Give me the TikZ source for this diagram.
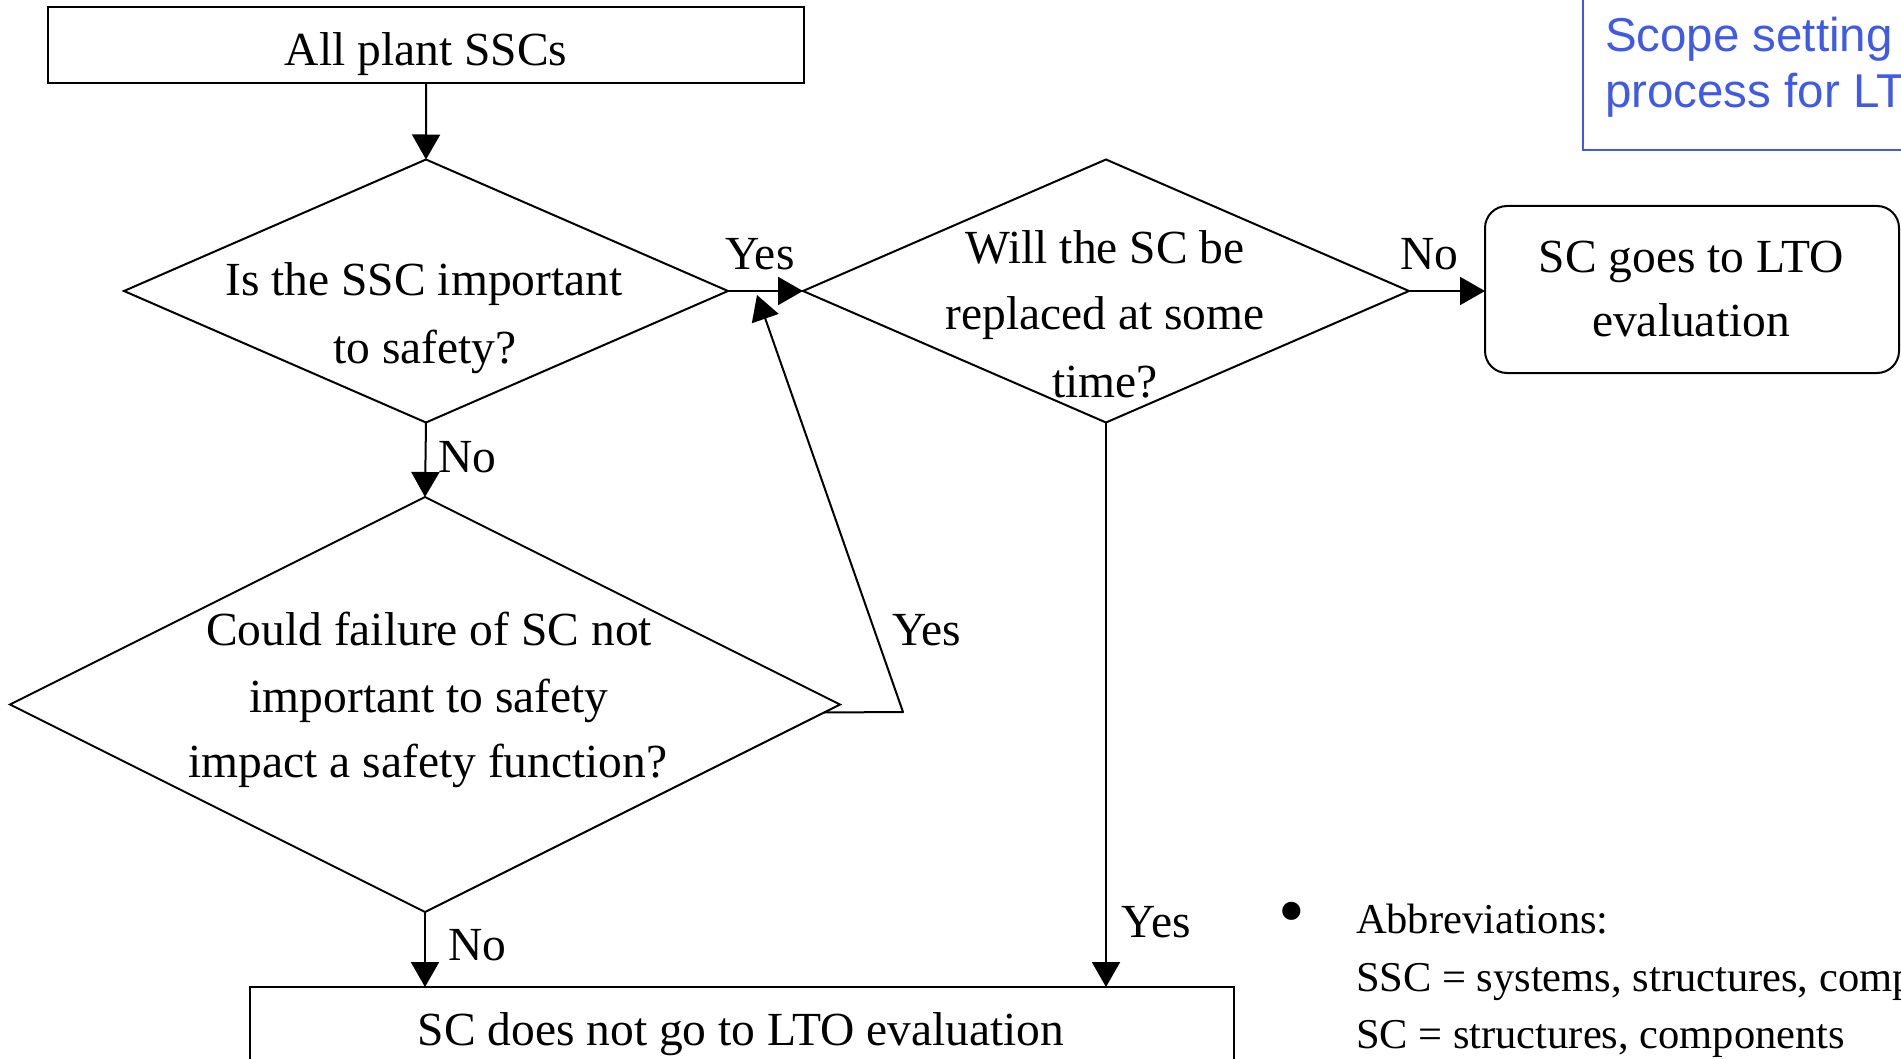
\documentclass[tikz,border=0pt]{standalone}
\usepackage{fontspec}
\setmainfont{Liberation Serif}
\newfontfamily\bluesans{Liberation Sans}
\usetikzlibrary{shapes.geometric,arrows.meta,calc}
\definecolor{scopeblue}{RGB}{65,90,230}
\begin{document}
\begin{tikzpicture}[x=1pt,y=-1pt,
  every node/.style={inner sep=0pt, outer sep=0pt},
  ln/.style={line width=2pt, line join=round},
  arr/.style={ln, -{Triangle[length=25pt,width=28pt]}},
  box/.style={draw, line width=2pt, rectangle},
  dia/.style={draw, line width=2pt, diamond, inner sep=0pt},
  txt/.style={anchor=base, font=\fontsize{47.5}{57}\selectfont},
  lbl/.style={anchor=base west, font=\fontsize{47.5}{57}\selectfont},
  lblc/.style={anchor=base, font=\fontsize{47.5}{57}\selectfont},
  abbr/.style={anchor=base west, font=\fontsize{42.5}{51}\selectfont},
  bluetxt/.style={anchor=base west, text=scopeblue, font=\bluesans\fontsize{47.5}{56}\selectfont}]
\useasboundingbox (0,0) rectangle (1901,1059);
\clip (0,0) rectangle (1901,1059);

% boxes and decisions
\node[box, minimum width=755.5pt, minimum height=75.4pt] (top) at (426.2,45) {};
\node[txt] (toptxt) at (426,66) {All plant SSCs};

\node[dia, minimum width=604pt, minimum height=263pt] (d1) at (426,291) {};
\node[txt] (d1a) at (424,296) {Is the SSC important};
\node[txt] (d1b) at (425,363) {to safety?};

\node[dia, minimum width=606pt, minimum height=263pt] (d2) at (1106,291) {};
\node[txt] (d2a) at (1105,263.5) {Will the SC be};
\node[txt] (d2b) at (1105,330) {replaced at some};
\node[txt] (d2c) at (1105,397) {time?};

\node[box, rounded corners=22pt, minimum width=414pt, minimum height=167pt] (lto) at (1692,289.5) {};
\node[txt] (ltoa) at (1691,273) {SC goes to LTO};
\node[txt] (ltob) at (1691,337) {evaluation};

\node[dia, minimum width=830pt, minimum height=415pt] (d3) at (425,704.5) {};
\node[txt] (d3a) at (429,645.5) {Could failure of SC not};
\node[txt] (d3b) at (429,712) {important to safety};
\node[txt] (d3c) at (428,777) {impact a safety function?};

\node[box, minimum width=984pt, minimum height=200pt, anchor=north] (bot) at (742,987) {};
\node[txt] (bottxt) at (741,1045) {SC does not go to LTO evaluation};

% scope note
\node[draw=scopeblue, line width=2pt, minimum width=400pt, minimum height=220pt, anchor=south west] (scope) at (1583,150) {};
\node[bluetxt] (scopea) at (1605,52) {Scope setting};
\node[bluetxt] (scopeb) at (1605,108) {process for LTO};

% abbreviations
\node[anchor=center, font=\fontsize{76}{80}\selectfont] (bullet) at (1291.5,919.5) {\textbullet};
\node[abbr] (ab1) at (1356,933) {Abbreviations:};
\node[abbr] (ab2) at (1356,991) {SSC = systems, structures, components};
\node[abbr] (ab3) at (1356,1048) {SC = structures, components};

% connectors
\draw[arr] (top.south) -- (d1.north);
\draw[arr] (d1.east) -- (d2.west);
\draw[arr] (d2.east) -- (d2.east -| lto.west);
\draw[arr] (d1.south) -- (d3.north);
\draw[arr] (d3.south) -- (d3.south |- bot.north);
\draw[arr] (d2.south) -- (d2.south |- bot.north);
\coordinate (fbA) at ($(d3.east)+(-16,8)$);
\coordinate (fbB) at (903,712);
\coordinate (fbT) at (757,295);
\draw[arr] (fbA) -- (fbB) -- (fbT);

% labels
\node[lblc] (yes1) at (760,270) {Yes};
\node[lblc] (no1) at (1429.6,270) {No};
\node[lbl] (no2) at (438,472) {No};
\node[lbl] (yes2) at (892,645) {Yes};
\node[lbl] (no3) at (448.6,960) {No};
\node[lbl] (yes3) at (1121.5,937) {Yes};
\end{tikzpicture}
\end{document}
